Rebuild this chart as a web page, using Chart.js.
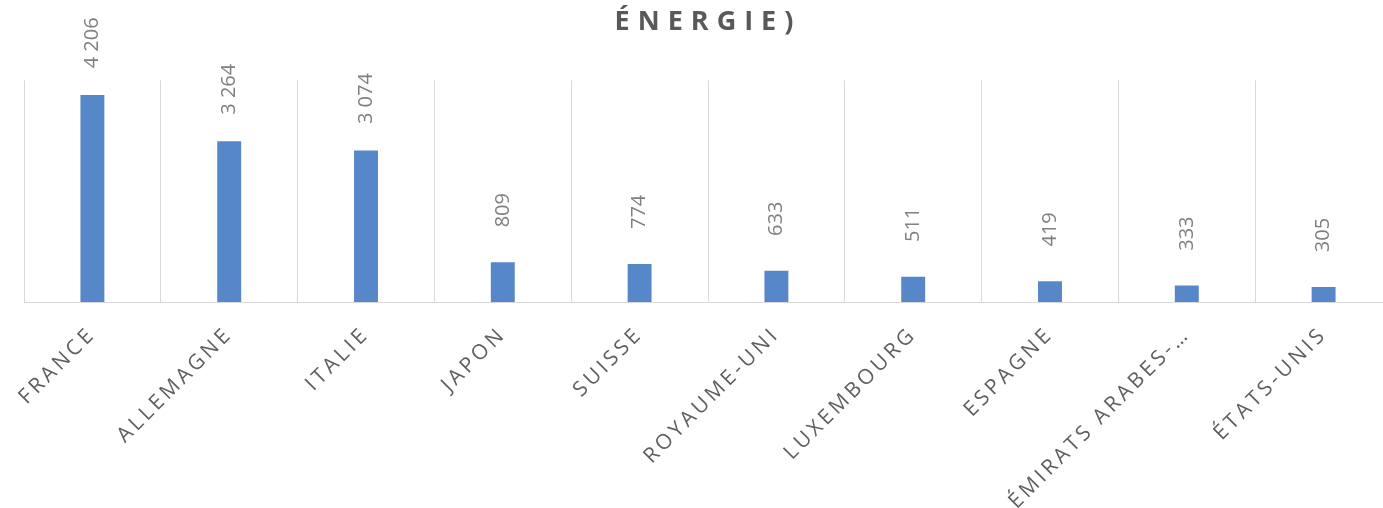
<!DOCTYPE html>
<html lang="fr">
<head>
    <meta charset="UTF-8">
    <title>Énergie</title>
    <script src="https://cdn.jsdelivr.net/npm/chart.js"></script>
    <style>
        html, body { margin: 0; padding: 0; background: #fff; overflow: hidden; }
        #wrap { width: 1410px; height: 508px; }
    </style>
</head>
<body>
    <div id="wrap">
        <canvas id="energyChart" width="1410" height="508"></canvas>
    </div>
    <script>
        const titleText = 'ÉNERGIE)';
        const countries = ['FRANCE', 'ALLEMAGNE', 'ITALIE', 'JAPON', 'SUISSE', 'ROYAUME-UNI',
            'LUXEMBOURG', 'ESPAGNE', 'ÉMIRATS ARABES-…', 'ÉTATS-UNIS'];
        const values = [4206, 3264, 3074, 809, 774, 633, 511, 419, 333, 305];
        const yMax = 4500;

        // "4206" -> "4 206"
        const fmt = v => String(v).replace(/\B(?=(\d{3})+(?!\d))/g, ' ');

        // wrap a draw method so its text gets letter spacing
        function spaced(obj, method, spacing) {
            if (!obj || obj['_sp_' + method]) return;
            const orig = obj[method];
            obj[method] = function (...args) {
                const ctx = this.ctx;
                ctx.save();
                ctx.letterSpacing = spacing;
                orig.apply(this, args);
                ctx.restore();
            };
            obj['_sp_' + method] = true;
        }

        const spacingPlugin = {
            id: 'spacing',
            beforeDraw(chart) {
                spaced(chart.titleBlock, 'draw', '8px');
                spaced(chart.scales.x, 'drawLabels', '3.5px');
            }
        };

        const valueLabels = {
            id: 'valueLabels',
            afterDatasetsDraw(chart) {
                const ctx = chart.ctx;
                const meta = chart.getDatasetMeta(0);
                ctx.save();
                ctx.font = '20px "Open Sans"';
                ctx.fillStyle = '#808080';
                ctx.textAlign = 'center';
                ctx.textBaseline = 'middle';
                meta.data.forEach((bar, i) => {
                    ctx.save();
                    ctx.translate(bar.x, bar.y - 52);
                    ctx.rotate(-Math.PI / 2);
                    ctx.fillText(fmt(values[i]), 0, 0);
                    ctx.restore();
                });
                ctx.restore();
            }
        };

        new Chart(document.getElementById('energyChart'), {
            type: 'bar',
            data: {
                labels: countries,
                datasets: [{
                    data: values,
                    backgroundColor: '#5687c9',
                    categoryPercentage: 1,
                    barPercentage: 0.175
                }]
            },
            options: {
                responsive: false,
                animation: false,
                layout: { padding: { left: 24, right: 18, top: 0, bottom: 0 } },
                plugins: {
                    legend: { display: false },
                    tooltip: { enabled: false },
                    title: {
                        display: true,
                        text: titleText,
                        color: '#595959',
                        font: { family: 'Open Sans', size: 27, weight: 'bold' },
                        padding: { top: 6, bottom: 42 }
                    }
                },
                scales: {
                    x: {
                        grid: { color: '#d9d9d9', drawTicks: false },
                        border: { color: '#d9d9d9' },
                        ticks: {
                            color: '#5f5f5f',
                            font: { family: 'Open Sans', size: 21, weight: '500' },
                            minRotation: 45,
                            maxRotation: 45,
                            autoSkip: false,
                            padding: 20
                        },
                        afterFit(scale) { scale.height = 206; }
                    },
                    y: {
                        display: false,
                        min: 0,
                        max: yMax
                    }
                }
            },
            plugins: [spacingPlugin, valueLabels]
        });
    </script>
</body>
</html>
